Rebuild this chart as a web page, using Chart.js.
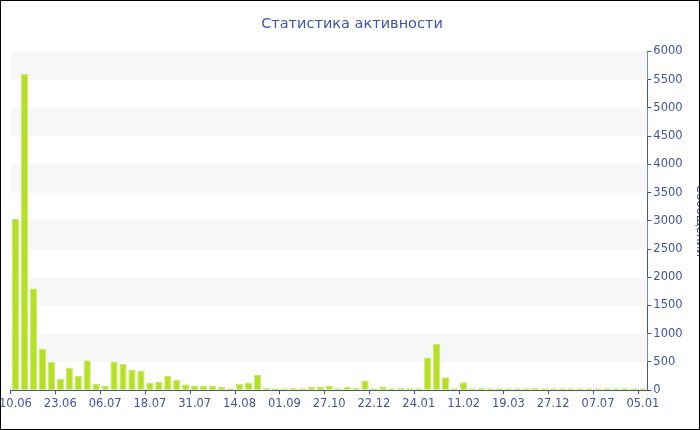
<!DOCTYPE html>
<html>
<head>
<meta charset="utf-8">
<script src="https://cdn.jsdelivr.net/npm/chart.js@4/dist/chart.umd.min.js"></script>
<style>
  body { margin: 0; background: #fff; }
  #box { position: relative; width: 700px; height: 430px; border: 1px solid #000; box-sizing: border-box; overflow: hidden; }
  #chart { position: absolute; left: -5px; top: 0; }
</style>
</head>
<body>
<div id="box"><canvas id="chart" width="712" height="428"></canvas></div>
<script>
const tickLabels = ['10.06', '23.06', '06.07', '18.07', '31.07', '14.08', '01.09', '27.10',
  '22.12', '24.01', '11.02', '19.03', '27.12', '07.07', '05.01'];

const messages = [
  3030, 5600, 1800, 740, 500, 200, 400, 250, 530, 120,
  80, 510, 470, 365, 340, 135, 145, 250, 185, 105,
  85, 85, 85, 60, 25, 110, 135, 270, 40, 30,
  30, 45, 20, 60, 65, 85, 25, 65, 45, 170,
  35, 65, 30, 40, 30, 20, 580, 820, 230, 35,
  140, 15, 40, 30, 30, 20, 30, 25, 45, 20,
  15, 15, 20, 20, 25, 20, 15, 20, 20, 25,
  15
];

// only every 5th bar carries a date on the axis
const categories = messages.map((v, i) => (i % 5 === 0 ? tickLabels[i / 5] : ''));

const blue = '#43539e';
const font = { family: 'DejaVu Sans', size: 11.5 };

// light gray bands every other 500 step
const bands = {
  id: 'bands',
  beforeDatasetsDraw(chart) {
    const { ctx, chartArea } = chart;
    const y = chart.scales.y;
    ctx.save();
    ctx.fillStyle = '#f7f7f7';
    for (let v = 500; v < 6000; v += 1000) {
      const top = y.getPixelForValue(v + 500);
      const bottom = y.getPixelForValue(v);
      ctx.fillRect(chartArea.left, top, chartArea.right - chartArea.left, bottom - top);
    }
    ctx.restore();
  }
};

new Chart(document.getElementById('chart').getContext('2d'), {
  type: 'bar',
  data: {
    labels: categories,
    datasets: [{
      label: 'Сообщений',
      data: messages,
      backgroundColor: '#b6df28',
      borderColor: '#cdea6c',
      borderWidth: 1,
      minBarLength: 2,
      barPercentage: 0.82,
      categoryPercentage: 1
    }]
  },
  options: {
    responsive: false,
    animation: false,
    layout: { padding: { top: 2, bottom: 15, left: 0, right: 0 } },
    plugins: {
      legend: { display: false },
      tooltip: { enabled: false },
      title: {
        display: true,
        text: 'Статистика активности',
        color: '#3d55a5',
        font: { family: 'DejaVu Sans', size: 14.5, weight: 'normal' },
        padding: { top: 13, bottom: 18 }
      }
    },
    scales: {
      x: {
        grid: {
          drawOnChartArea: false,
          tickLength: 4,
          tickColor: (c) => (c.index % 5 === 0 ? blue : 'rgba(0,0,0,0)')
        },
        border: { color: blue, width: 1 },
        ticks: { color: blue, font: font, autoSkip: false, maxRotation: 0, padding: 3 }
      },
      y: {
        position: 'right',
        min: 0,
        max: 6000,
        grid: {
          drawOnChartArea: false,
          tickLength: 4,
          tickColor: (c) => (c.tick && c.tick.value % 500 === 0 ? blue : '#97a2cf')
        },
        border: { color: blue, width: 1 },
        ticks: {
          stepSize: 250,
          color: blue,
          font: font,
          padding: 2,
          callback: (v) => (v % 500 === 0 ? v : '')
        },
        title: {
          display: true,
          text: 'Сообщений',
          color: blue,
          font: { family: 'DejaVu Sans', size: 12 },
          padding: { top: 1, bottom: 8 }
        }
      }
    }
  },
  plugins: [bands]
});
</script>
</body>
</html>
